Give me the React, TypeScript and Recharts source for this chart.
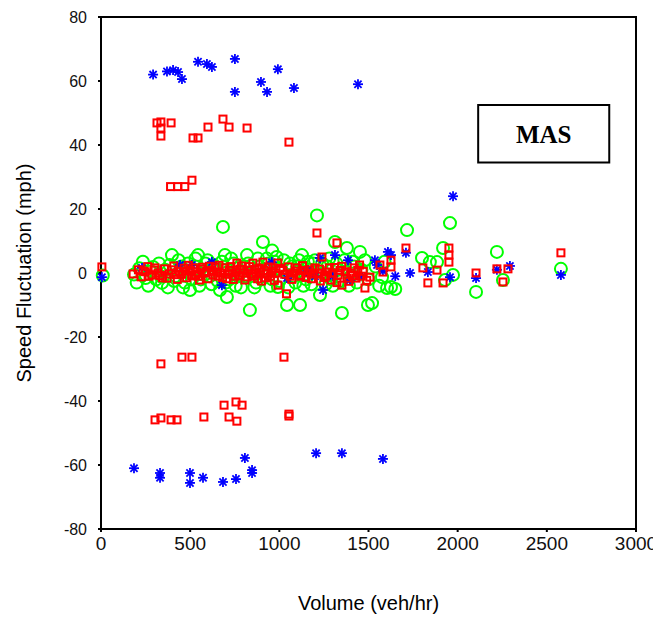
import { ReferenceArea, Scatter, ScatterChart, XAxis, YAxis } from 'recharts';

type Pt = [number, number];

const xTicks = [0, 500, 1000, 1500, 2000, 2500, 3000];
const yTicks = [-80, -60, -40, -20, 0, 20, 40, 60, 80];

// blue asterisks
const starHigh: Pt[] = [
  [292, 62], [370, 63], [404, 63.4], [432, 62.8], [454, 60.6], [544, 66], [594, 65.3], [622, 64.4],
  [751, 66.9], [751, 56.6], [897, 59.7], [931, 56.6], [992, 63.7], [1082, 57.8], [1441, 59]
];
const starBand: Pt[] = [
  [5, -1.3], [230, 1.6], [443, 2.5], [510, 2.5], [622, 3.4], [678, -3.8], [958, 3.4], [1043, -1.6],
  [1150, 0.5], [1161, 0.9], [1200, -1], [1228, 4.7], [1245, -5.3], [1300, -1], [1312, 5.6], [1385, 4],
  [1396, -2.2], [1450, -1], [1536, 4], [1548, 2.5], [1581, 0.6], [1609, 6.6], [1626, 5.6], [1650, -1],
  [1710, 6.3], [1733, 0], [1833, 0.3], [1957, -1.3], [1974, 24], [2103, -1.6], [2220, 1], [2293, 2.2],
  [2579, -0.6]
];
const starLow: Pt[] = [
  [185, -61], [331, -62.5], [331, -64], [499, -62.5], [499, -65.6], [572, -64], [684, -65.3],
  [757, -64.4], [807, -57.8], [847, -61.6], [847, -62.5], [1206, -56.3], [1351, -56.3], [1581, -58.1]
];

// red squares
const squareHigh: Pt[] = [
  [314, 46.9], [336, 47.2], [393, 46.9], [336, 45.3], [336, 42.8], [516, 42.2], [544, 42.2],
  [600, 45.6], [684, 48.1], [718, 45.6], [819, 45.3], [1054, 40.9],
  [390, 27], [430, 27], [470, 27], [510, 29]
];
const squareBand: Pt[] = [
  [5, 1.9], [180, -0.3], [236, 0.6], [270, -1], [303, 1.6], [320, 0], [345, -1.5], [370, -1.6],
  [395, 1], [420, -0.5], [440, 0.5], [465, 1.5], [480, -1.5], [500, 0.8], [516, 1.6], [530, -0.5],
  [545, -1], [560, 1.2], [580, 0], [600, -1.8], [620, 0.8], [640, 1.8], [655, -1], [670, 0], [695, 1.6],
  [705, -1.8], [720, 0.8], [735, 0], [750, -1], [762, 3.1], [780, 1.2], [795, 0], [807, -2.2],
  [825, 0.8], [852, 3.1], [855, -1], [870, 0], [885, 1.5], [900, -2.5], [908, 3.4], [915, 0.8],
  [930, 0], [950, -1], [965, 1.6], [980, 0], [992, 3.1], [992, -3.8], [1020, 0.8], [1040, -6.5],
  [1060, -1], [1080, 0], [1100, 1.6], [1120, -1], [1140, 0.8], [1160, 0], [1180, -1.8], [1200, 1.6],
  [1211, 12.5], [1215, 0], [1230, -2.5], [1239, 5], [1260, -1], [1280, 1.6], [1300, 0], [1323, 9.4],
  [1323, -3], [1340, 0.8], [1351, -3.8], [1380, -1.6], [1400, 0], [1420, 1.6], [1440, 0.8],
  [1460, -1], [1480, -4.7], [1508, -1.3], [1564, 2.5], [1581, 0.3], [1626, 4], [1626, 1.9],
  [1710, 7.8], [1805, 1.6], [1833, -3.1], [1884, 0.9], [1918, -3.1], [1951, 7.8], [1951, 5.6],
  [1951, 3.4], [2103, 0], [2220, 1.3], [2254, -2.8], [2282, 1.3], [2579, 6.3]
];
const squareBandDense: Pt[] = [
  [210, 1], [225, -1.2], [248, 0.4], [262, 2], [285, -0.6], [298, 0.9], [332, -0.8], [356, 1.3],
  [381, -0.3], [408, 2.2], [428, -2], [452, -0.4], [472, 0.6], [490, 2.4], [508, -0.9], [538, 0.3],
  [552, -2.2], [568, 1.8], [592, 0.5], [608, 2.1], [628, -0.6], [648, 0.3], [662, 2.4], [682, -1.4],
  [712, -0.4], [728, 2], [742, -2], [758, 0.4], [772, -0.8], [788, 2.2], [802, 0.9], [818, -1.2],
  [832, 2], [845, -0.4], [862, 1.1], [878, -1.8], [895, 0.3], [922, -1.5], [938, 1.9], [958, 0.5],
  [972, -2.3], [1005, 1.4], [1030, -0.4], [1050, 1.9], [1070, -2], [1090, 0.6], [1110, -0.7],
  [1130, 2.3], [1150, -1.4], [1170, 1], [1190, -0.3], [1225, 1.2], [1250, -1.4], [1270, 0.3],
  [1290, -2.2], [1310, 1.7], [1330, -0.6], [1350, 2.1], [1370, 0.4], [1390, -2.6], [1410, -0.8],
  [1430, -1.6], [1450, 2.5], [1470, 0.5], [1490, -2.3]
];
const squareLow: Pt[] = [
  [336, -28.4], [454, -26.3], [510, -26.3], [1026, -26.3], [303, -45.9], [336, -45.3], [393, -45.9],
  [426, -45.9], [577, -45], [690, -41.3], [718, -45], [757, -40.3], [791, -41.3], [762, -46.3],
  [1054, -44.1], [1054, -44.7]
];

// green circles
const circleBand: Pt[] = [
  [10, -0.8], [185, -0.5], [250, -1.6], [292, 1.9], [310, -2], [342, -3.1], [360, 1], [398, 5.6],
  [420, -1], [450, 2], [470, -3], [499, -5.3], [520, 1], [544, 5.6], [560, -2], [585, 3], [610, -1],
  [640, 2], [667, -5.3], [684, 14.4], [690, 1], [695, 5.6], [706, -7.5], [720, -2], [745, 3],
  [770, -1], [800, 2], [819, 5.6], [835, -11.6], [850, 0], [870, -3], [890, 2], [908, 9.7], [920, -1],
  [940, 3], [960, -2], [992, -4.4], [1010, 1], [1043, -10], [1060, 3], [1080, -1], [1100, 2],
  [1116, -10], [1127, 5.6], [1150, -2], [1170, 1], [1190, 3], [1211, 18], [1228, -6.9], [1250, 0],
  [1270, 2], [1290, -2], [1312, 9.7], [1330, 1], [1351, -12.5], [1379, 7.8], [1400, -1], [1420, 2],
  [1452, 6.6], [1497, -10], [1500, -2], [1520, -9.4], [1576, -1.3], [1604, -4.7], [1626, -4.4],
  [1650, -5], [1716, 13.4], [1800, 4.7], [1844, 3.4], [1884, 3.4], [1918, 7.8], [1929, -2.2],
  [1957, 15.6], [1974, -0.6], [2103, -5.9], [2220, 6.6], [2254, -2.2], [2579, 1.3]
];
const circleBandDense: Pt[] = [
  [200, -3], [215, 1.5], [235, 3.5], [265, -4], [280, 0.5], [325, 3], [335, -1], [375, -4.5],
  [385, 2.5], [410, -2.5], [435, 4], [460, -4.5], [488, 3], [510, -2], [530, 4.5], [552, -4],
  [575, 0.5], [598, 4], [620, -3.5], [630, 2.5], [655, -2.5], [678, 3.5], [700, -3], [730, 4.5],
  [755, -4], [762, 1.5], [785, -4.5], [810, -1], [825, 3], [860, -4.5], [880, 4.5], [900, -2],
  [930, 4.5], [950, -4], [960, 7], [975, 3.5], [985, 5], [1000, -2.5], [1025, 4], [1050, -4.5],
  [1070, 2], [1090, -3], [1110, 4], [1135, -4], [1160, 3.5], [1180, -3.5], [1200, 4], [1240, 3],
  [1260, -3.5], [1280, 4.5], [1300, -4], [1320, 3], [1345, -2.5], [1365, 4], [1390, -4], [1410, 3.5],
  [1435, -3], [1460, 1], [1480, 4], [1540, 2], [1560, -4], [1590, 3.5]
];

const toRows = (pts: Pt[]) => pts.map(([volume, speed]) => ({ volume, speed }));

const starData = toRows([...starHigh, ...starBand, ...starLow]);
const squareData = toRows([...squareHigh, ...squareBand, ...squareBandDense, ...squareLow]);
const circleData = toRows([...circleBand, ...circleBandDense]);

const sans = 'Liberation Sans, Arial, sans-serif';

const Star = (props: any) => {
  const { cx, cy } = props;
  const r = 5;
  const d = 3.6;
  return (
    <g stroke="#0000ff" strokeWidth={1.8}>
      <line x1={cx - r} y1={cy} x2={cx + r} y2={cy} />
      <line x1={cx} y1={cy - r} x2={cx} y2={cy + r} />
      <line x1={cx - d} y1={cy - d} x2={cx + d} y2={cy + d} />
      <line x1={cx - d} y1={cy + d} x2={cx + d} y2={cy - d} />
    </g>
  );
};

const Square = (props: any) => {
  const { cx, cy } = props;
  return <rect x={cx - 3.5} y={cy - 3.5} width={7} height={7} fill="none" stroke="#ff0000" strokeWidth={2} />;
};

const Ring = (props: any) => {
  const { cx, cy } = props;
  return <circle cx={cx} cy={cy} r={6} fill="none" stroke="#00ff00" strokeWidth={2} />;
};

const YTitle = (props: any) => {
  const { viewBox } = props;
  const x = viewBox.x + 16;
  const y = viewBox.y + viewBox.height / 2;
  return (
    <text x={x} y={y} transform={`rotate(-90, ${x}, ${y})`} textAnchor="middle" dominantBaseline="central"
      fontFamily={sans} fontSize={20} fill="#000">
      Speed Fluctuation (mph)
    </text>
  );
};

const XTitle = (props: any) => {
  const { viewBox } = props;
  return (
    <text x={viewBox.x + viewBox.width / 2} y={viewBox.y + 74} textAnchor="middle" dominantBaseline="central"
      fontFamily={sans} fontSize={20} fill="#000">
      Volume (veh/hr)
    </text>
  );
};

export default function App() {
  return (
    <ScatterChart width={653} height={612} margin={{ top: 9, right: 25, bottom: 8, left: 0 }}>
      <XAxis
        type="number"
        dataKey="volume"
        domain={[0, 3000]}
        ticks={xTicks}
        height={83}
        tickSize={3}
        tickMargin={5}
        axisLine={{ stroke: '#000', strokeWidth: 2 }}
        tickLine={{ stroke: '#000', strokeWidth: 2 }}
        tick={{ fontSize: 19, fill: '#111', fontFamily: sans }}
        label={<XTitle />}
      />
      <YAxis
        type="number"
        dataKey="speed"
        domain={[-80, 80]}
        ticks={yTicks}
        width={93}
        tickSize={3}
        tickMargin={11}
        axisLine={{ stroke: '#000', strokeWidth: 2 }}
        tickLine={{ stroke: '#000', strokeWidth: 2 }}
        tick={{ fontSize: 16, fill: '#111', fontFamily: sans }}
        label={<YTitle />}
      />
      <ReferenceArea x1={0} x2={3000} y1={-80} y2={80} fill="none" fillOpacity={0} stroke="#000" strokeWidth={2} />
      <Scatter data={circleData} shape={Ring} isAnimationActive={false} />
      <Scatter data={starData} shape={Star} isAnimationActive={false} />
      <Scatter data={squareData} shape={Square} isAnimationActive={false} />
      <ReferenceArea
        x1={2115}
        x2={2850}
        y1={34.5}
        y2={52.5}
        fill="#fff"
        fillOpacity={1}
        stroke="#000"
        strokeWidth={2}
        label={{ value: 'MAS', position: 'center', fill: '#000', fontSize: 25, fontWeight: 'bold', fontFamily: 'Liberation Serif, Times New Roman, serif' }}
      />
    </ScatterChart>
  );
}
